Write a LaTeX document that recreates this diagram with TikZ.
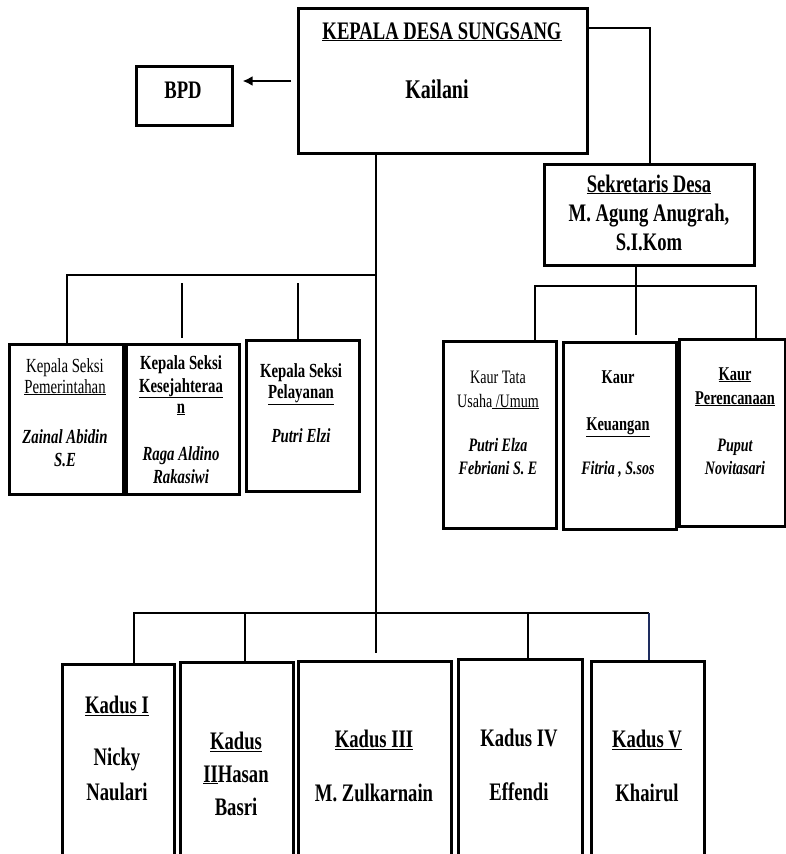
\documentclass[tikz,border=0pt]{standalone}
\usepackage{fontspec}
\setmainfont{Liberation Serif}[FakeStretch=0.74]
\usetikzlibrary{arrows.meta}
\definecolor{navyline}{RGB}{30,45,95}
\begin{document}
\begin{tikzpicture}[x=1pt,y=-1pt,
  box/.style={draw, line width=2.6pt, inner sep=0, anchor=north west},
  conn/.style={line width=2.2pt},
  tx/.style={inner sep=0, anchor=base},
  fA/.style={font=\fontsize{25.2}{29}\selectfont\bfseries},
  fK/.style={font=\fontsize{27}{30}\selectfont\bfseries},
  fS/.style={font=\fontsize{20}{23}\selectfont},
  fSb/.style={font=\fontsize{20}{23}\selectfont\bfseries},
  fSi/.style={font=\fontsize{20}{23}\selectfont\bfseries\itshape},
  fR/.style={font=\fontsize{19}{22}\selectfont},
  fRb/.style={font=\fontsize{19.5}{22}\selectfont\bfseries},
  fRi/.style={font=\fontsize{19}{22}\selectfont\bfseries\itshape}]
\clip (0,0) rectangle (786,854);
\fill[white] (0,0) rectangle (786,854);

% ---- boxes ----
\node[box, minimum width=289pt, minimum height=145pt] (kd) at (297,7) {};
\node[box, minimum width=96pt, minimum height=59pt] (bpd) at (135,65) {};
\node[box, minimum width=210pt, minimum height=101pt] (sek) at (543,163) {};

\node[box, minimum width=114pt, minimum height=150pt] (s1) at (8,343) {};
\node[box, minimum width=113pt, minimum height=150pt] (s2) at (125,343) {};
\node[box, minimum width=113pt, minimum height=151pt] (s3) at (245,339) {};

\node[box, minimum width=113pt, minimum height=187pt] (k1) at (442,340) {};
\node[box, minimum width=113pt, minimum height=187pt] (k2) at (562,341) {};
\node[box, minimum width=106pt, minimum height=187pt] (k3) at (678,338) {};

\node[box, minimum width=112pt, minimum height=220pt] (d1) at (61,663) {};
\node[box, minimum width=113pt, minimum height=220pt] (d2) at (179,661) {};
\node[box, minimum width=153pt, minimum height=220pt] (d3) at (297,660) {};
\node[box, minimum width=124pt, minimum height=220pt] (d4) at (457,658) {};
\node[box, minimum width=113pt, minimum height=220pt] (d5) at (590,660) {};

% ---- junction coordinates ----
\coordinate (jR) at (650,28);
\coordinate (aT) at (291,81);
\coordinate (mX) at (376,152);
\coordinate (mL) at (376,275);
\coordinate (lL) at (67,275);
\coordinate (s2t) at (182,283);
\coordinate (s3t) at (298,283);
\coordinate (sekB) at (636,264);
\coordinate (kL) at (535,286);
\coordinate (kR) at (756,286);
\coordinate (bL) at (134,613);
\coordinate (b2) at (245,613);
\coordinate (b4) at (528,613);
\coordinate (bR) at (649,613);
\coordinate (m3) at (376,653);

% ---- connectors ----
\draw[conn] (kd.east |- jR) -- (jR) -- (jR |- sek.north);
\draw[conn, line width=2.6pt, -{Latex[length=10pt,width=10pt]}, shorten >=9pt] (aT) -- (bpd.east |- aT);
\draw[conn] (mX) -- (m3);
\draw[conn] (mL) -- (lL) -- (lL |- s1.north);
\draw[conn] (s2t) -- ++(0,55);
\draw[conn] (s3t) -- (s3t |- s3.north);
\draw[conn] (sekB) -- ++(0,71);
\draw[conn] (kL |- k1.north) -- (kL) -- (kR) -- (kR |- k3.north);
\draw[conn] (bL |- d1.north) -- (bL) -- (bR);
\draw[conn] (b2) -- ++(0,51);
\draw[conn] (b4) -- (b4 |- d4.north);
\draw[conn, navyline] (bR) -- (bR |- d5.north);

% ---- texts ----
\node[tx, fA] (t1) at (442,39) {\underline{KEPALA DESA SUNGSANG}};
\node[tx, fK] (t2) at (437,98) {Kailani};
\node[tx, fA] (t3) at (183,98) {BPD};

\node[tx, fA] (t4) at (649,192) {\underline{Sekretaris Desa}};
\node[tx, fA] (t5) at (649,221) {M. Agung Anugrah,};
\node[tx, fA] (t6) at (649,250) {S.I.Kom};

\node[tx, fS] (u1) at (65,372) {Kepala Seksi};
\node[tx, fS] (u2) at (65,393) {\underline{Pemerintahan}};
\node[tx, fSi] (u3) at (65,443) {Zainal Abidin};
\node[tx, fSi] (u4) at (65,466) {S.E};

\node[tx, fSb] (v1) at (181,369) {Kepala Seksi};
\node[tx, fSb] (v2) at (181,392) {\underline{Kesejahteraa}};
\node[tx, fSb] (v3) at (181,413) {\underline{n}};
\node[tx, fSi] (v4) at (181,460) {Raga Aldino};
\node[tx, fSi] (v5) at (181,483) {Rakasiwi};

\node[tx, fSb] (w1) at (301,377) {Kepala Seksi};
\node[tx, fSb] (w2) at (301,398) {\underline{Pelayanan}};
\node[tx, fSi] (w3) at (301,442) {Putri Elzi};

\node[tx, fR] (x1) at (498,383) {Kaur Tata};
\node[tx, fR] (x2) at (498,407) {Usaha\underline{ /Umum}};
\node[tx, fRi] (x3) at (498,451) {Putri Elza};
\node[tx, fRi] (x4) at (498,474) {Febriani S. E};

\node[tx, fRb] (y1) at (618,383) {Kaur};
\node[tx, fRb] (y2) at (618,430) {\underline{Keuangan}};
\node[tx, fRi] (y3) at (618,474) {Fitria , S.sos};

\node[tx, fRb] (z1) at (735,380) {\underline{Kaur}};
\node[tx, fRb] (z2) at (735,404) {\underline{Perencanaan}};
\node[tx, fRi] (z3) at (735,451) {Puput};
\node[tx, fRi] (z4) at (735,474) {Novitasari};

\node[tx, fA] (p1) at (117,713) {\underline{Kadus I}};
\node[tx, fA] (p2) at (117,765) {Nicky};
\node[tx, fA] (p3) at (117,800) {Naulari};

\node[tx, fA] (q1) at (236,749) {\underline{Kadus}};
\node[tx, fA] (q2) at (236,782) {\underline{II}Hasan};
\node[tx, fA] (q3) at (236,815) {Basri};

\node[tx, fA] (r1) at (374,747) {\underline{Kadus III}};
\node[tx, fA] (r2) at (374,801) {M. Zulkarnain};

\node[tx, fA] (o1) at (519,746) {Kadus IV};
\node[tx, fA] (o2) at (519,800) {Effendi};

\node[tx, fA] (n1) at (647,747) {\underline{Kadus V}};
\node[tx, fA] (n2) at (647,801) {Khairul};
\end{tikzpicture}
\end{document}
